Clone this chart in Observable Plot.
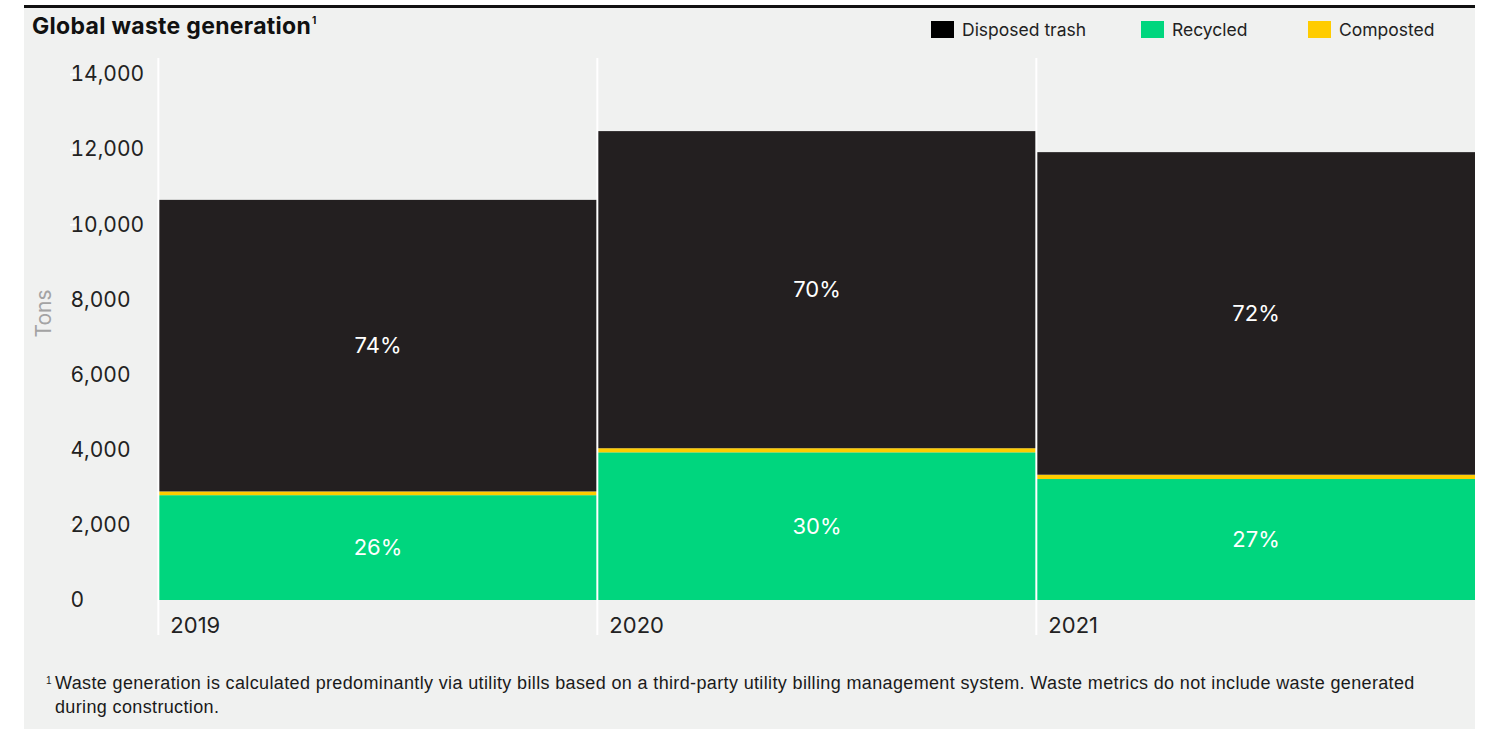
<!DOCTYPE html>
<html>
<head>
<meta charset="utf-8">
<script src="https://cdn.jsdelivr.net/npm/d3@7"></script>
<script src="https://cdn.jsdelivr.net/npm/@observablehq/plot@0.6"></script>
<style>
  html, body { margin: 0; padding: 0; background: #ffffff; width: 1495px; height: 729px; overflow: hidden; }
  #panel { position: absolute; left: 24px; top: 5px; width: 1451px; height: 724px; background: #f0f1f0; border-top: 3px solid #111; box-sizing: border-box; }
  #title { position: absolute; left: 32px; top: 12px; font-family: Inter, sans-serif; font-weight: 700; font-size: 23px; color: #111; letter-spacing: 0.3px; white-space: nowrap; }
  #title sup { font-size: 10px; vertical-align: top; position: relative; top: 2px; margin-left: 1px; }
  #legend { position: absolute; top: 21px; left: 931px; font-family: Inter, sans-serif; font-size: 17.5px; color: #222; }
  .item { position: absolute; top: 0; white-space: nowrap; display: flex; align-items: center; height: 17px; }
  .sw { width: 23px; height: 17px; margin-right: 8px; }
  #chart { position: absolute; left: 24px; top: 50px; }
  #note { position: absolute; left: 55px; top: 671px; font-family: "Liberation Sans", Arial, sans-serif; font-size: 18px; letter-spacing: 0.36px; line-height: 24px; color: #1a1a1a; white-space: nowrap; }
  #note .mk { position: absolute; left: -9px; top: -2px; font-size: 10px; }
</style>
</head>
<body>
<div id="panel"></div>
<div id="title">Global waste generation<sup>1</sup></div>
<div id="legend"></div>
<div id="chart"></div>
<div id="note"><span class="mk">1</span>Waste generation is calculated predominantly via utility bills based on a third-party utility billing management system. Waste metrics do not include waste generated<br>during construction.</div>
<script>
// ---- data ----
const years = ["2019", "2020", "2021"];
const seriesNames = ["Recycled", "Composted", "Disposed trash"];
const recycled = [2790, 3930, 3220];
const composted = [100, 110, 115];
const disposed = [7760, 8440, 8585];
const recycledPct = ["26%", "30%", "27%"];
const disposedPct = ["74%", "70%", "72%"];
const yTicks = [0, 2000, 4000, 6000, 8000, 10000, 12000, 14000];
const colors = {"Disposed trash": "#231f20", "Recycled": "#00d67e", "Composted": "#ffcc00"};
const legendOrder = ["Disposed trash", "Recycled", "Composted"];
const legendSwatch = {"Disposed trash": "#000000", "Recycled": "#00d67e", "Composted": "#ffcc00"};

// long table
const rows = [];
years.forEach((yr, i) => {
  rows.push({year: yr, type: "Recycled", value: recycled[i], label: recycledPct[i]});
  rows.push({year: yr, type: "Composted", value: composted[i], label: ""});
  rows.push({year: yr, type: "Disposed trash", value: disposed[i], label: disposedPct[i]});
});

// legend
const legend = document.getElementById("legend");
const legendX = [0, 210, 377];
legendOrder.forEach((name, i) => {
  const it = document.createElement("div");
  it.className = "item";
  it.style.left = legendX[i] + "px";
  it.innerHTML = `<span class="sw" style="background:${legendSwatch[name]}"></span><span>${name}</span>`;
  legend.appendChild(it);
});

const W = 1451, H = 600, ML = 133, MR = 0, MT = 24, MB = 50;
const bw = (W - ML - MR) / years.length;

const chart = Plot.plot({
  width: W,
  height: H,
  marginLeft: ML,
  marginRight: MR,
  marginTop: MT,
  marginBottom: MB,
  style: {background: "transparent", fontFamily: "Inter, sans-serif", fontSize: "21px", color: "#222", overflow: "visible"},
  x: {type: "band", domain: years, padding: 0},
  y: {domain: [0, 14000]},
  color: {domain: seriesNames, range: seriesNames.map(s => colors[s])},
  marks: [
    Plot.barY(rows, Plot.stackY({x: "year", y: "value", fill: "type", z: "type", order: seriesNames})),
    Plot.text(rows, Plot.stackY({x: "year", y: "value", z: "type", order: seriesNames, text: "label", fill: "white", fontSize: 22})),
    Plot.ruleX(years, {x: d => d, dx: -bw / 2, stroke: "white", strokeWidth: 2, insetTop: -16, insetBottom: -35}),
    Plot.axisY({ticks: yTicks, tickFormat: d3.format(","), tickSize: 9, tickPadding: 0, stroke: "white", strokeWidth: 2, strokeOpacity: 1, textAnchor: "start", dx: -78, label: null, fill: "#222", fontSize: 21}),
    Plot.axisX({tickSize: 0, tickPadding: 17, textAnchor: "start", dx: -bw / 2 + 12, label: null, fill: "#222", fontSize: 22}),
    Plot.text(["Tons"], {frameAnchor: "left", rotate: -90, dx: -113, dy: 0, fill: "#a3a3a3", fontSize: 21})
  ]
});
document.getElementById("chart").appendChild(chart);
</script>
</body>
</html>
